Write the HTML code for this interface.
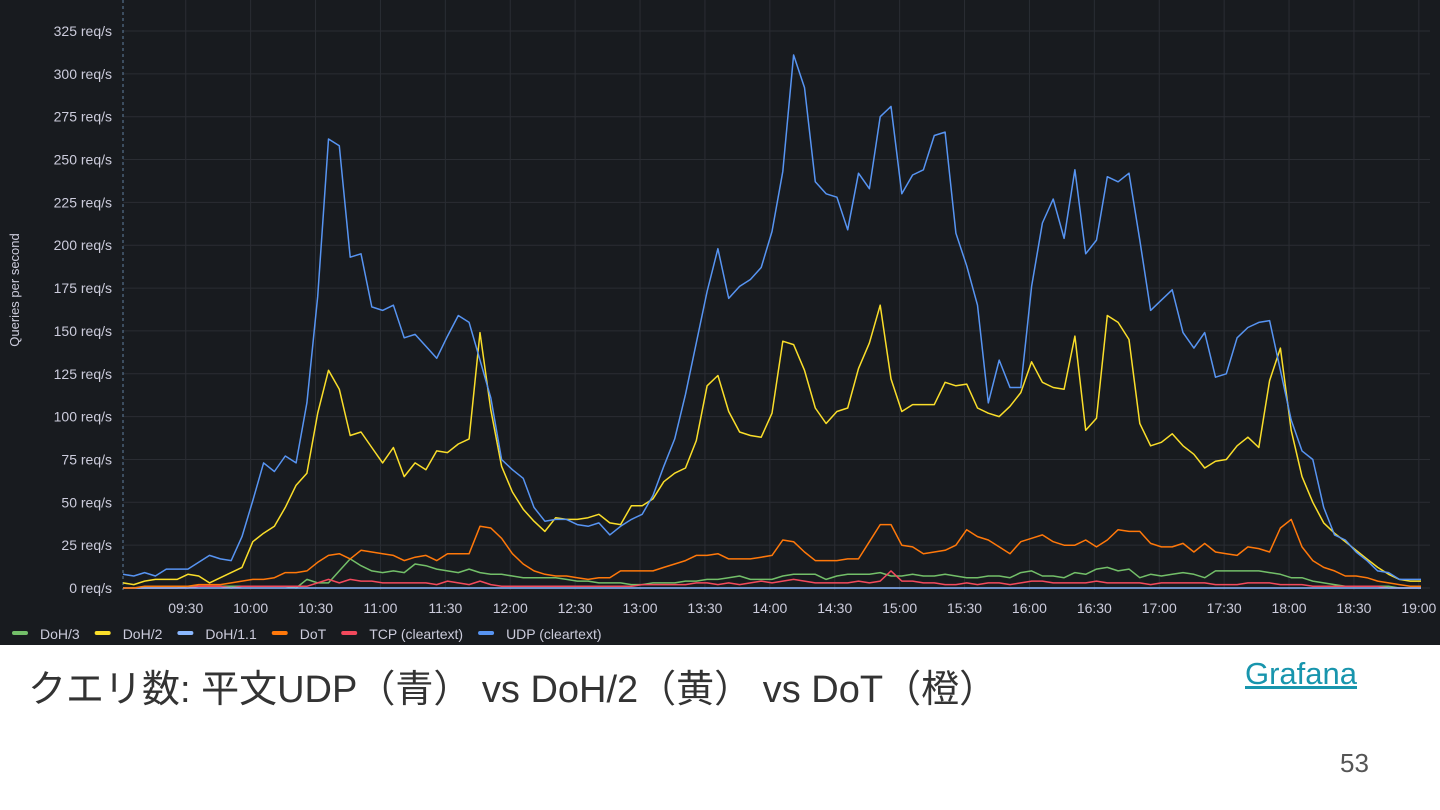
<!DOCTYPE html>
<html><head><meta charset="utf-8">
<style>
body{margin:0;width:1440px;height:810px;background:#fff;overflow:hidden;font-family:"Liberation Sans","Noto Sans CJK JP",sans-serif;}
#panel{position:absolute;left:0;top:0;width:1440px;height:645px;background:#181b1f;}
svg text{font-family:"Liberation Sans",sans-serif;}
#caption{position:absolute;left:28px;top:658px;font-size:38px;color:#333;font-family:"Liberation Sans","Noto Sans CJK JP",sans-serif;white-space:nowrap;}
#link{position:absolute;left:1245px;top:656px;font-size:31px;color:#1895ad;text-decoration:underline;font-family:"Liberation Sans",sans-serif;}
#page{position:absolute;left:1340px;top:748px;font-size:26px;color:#555;font-family:"Liberation Sans",sans-serif;}
</style></head><body>
<div id="panel">
<svg id="chart" width="1440" height="645"></svg>
</div>
<div id="caption">クエリ数: 平文UDP（青） vs DoH/2（黄） vs DoT（橙）</div>
<a id="link">Grafana</a>
<div id="page">53</div>
<script>
const yTicks=[0,25,50,75,100,125,150,175,200,225,250,275,300,325];
const xTickLabels=["09:30","10:00","10:30","11:00","11:30","12:00","12:30","13:00","13:30","14:00","14:30","15:00","15:30","16:00","16:30","17:00","17:30","18:00","18:30","19:00"];
const xTickMinutes=[570,600,630,660,690,720,750,780,810,840,870,900,930,960,990,1020,1050,1080,1110,1140];
const startMinute=541;
const stepMinutes=5;
const udp=[8,7,9,7,11,11,11,15,19,17,16,30,51,73,68,77,73,108,170,262,258,193,195,164,162,165,146,148,141,134,147,159,155,133,111,75,69,64,47,39,40,40,37,36,38,31,36,40,43,54,71,87,113,143,173,198,169,176,180,187,208,243,311,292,237,230,228,209,242,233,275,281,230,241,244,264,266,207,188,165,108,133,117,117,176,213,227,204,244,195,203,240,237,242,203,162,168,174,149,140,149,123,125,146,152,155,156,127,98,80,75,47,31,28,21,16,10,9,5,5,5];
const doh2=[3,2,4,5,5,5,8,7,3,6,9,12,27,32,36,47,60,67,102,127,116,89,91,82,73,82,65,73,69,80,79,84,87,149,104,71,56,46,39,33,41,40,40,41,43,38,37,48,48,52,62,67,70,86,118,124,103,91,89,88,102,144,142,127,105,96,103,105,128,143,165,122,103,107,107,107,120,118,119,105,102,100,106,114,132,120,117,116,147,92,99,159,155,145,96,83,85,90,83,78,70,74,75,83,88,82,121,140,92,65,50,38,32,27,22,17,12,8,5,4,4];
const dot=[0,0,1,1,1,1,1,2,2,2,3,4,5,5,6,9,9,10,15,19,20,17,22,21,20,19,16,18,19,16,20,20,20,36,35,29,20,14,10,8,7,7,6,5,6,6,10,10,10,10,12,14,16,19,19,20,17,17,17,18,19,28,27,21,16,16,16,17,17,27,37,37,25,24,20,21,22,25,34,30,28,24,20,27,29,31,27,25,25,28,24,28,34,33,33,26,24,24,26,21,26,21,20,19,24,23,21,35,40,24,16,12,10,7,7,6,4,3,2,1,1];
const doh3=[0,0,0,0,0,0,1,1,1,1,1,1,1,1,1,1,0,5,3,3,10,17,13,10,9,10,9,14,13,11,10,9,11,9,8,8,7,6,6,6,6,5,4,4,3,3,3,2,2,3,3,3,4,4,5,5,6,7,5,5,5,7,8,8,8,5,7,8,8,8,9,7,7,8,7,7,8,7,6,6,7,7,6,9,10,7,7,6,9,8,11,12,10,11,6,8,7,8,9,8,6,10,10,10,10,10,9,8,6,6,4,3,2,1,1,1,1,1,0,0,0];
const tcp=[0,0,0,0,0,0,0,1,1,1,0,1,1,1,1,1,1,1,3,5,3,5,4,4,3,3,3,3,3,2,4,3,2,4,2,1,1,1,1,1,1,1,1,1,1,1,1,1,2,2,2,2,2,3,3,2,3,2,3,4,3,4,5,4,3,3,3,3,4,3,4,10,4,4,3,3,2,2,3,2,3,3,2,3,4,4,3,3,3,3,4,3,3,3,3,2,3,3,3,3,3,2,2,2,3,3,3,2,2,2,1,1,1,1,1,1,1,0,0,0,0];
const doh11=new Array(121).fill(0);
const series=[
 {name:"doh3",vals:doh3,color:"#73bf69"},
 {name:"tcp",vals:tcp,color:"#f2495c"},
 {name:"doh11",vals:doh11,color:"#8ab8ff"},
 {name:"dot",vals:dot,color:"#ff780a"},
 {name:"doh2",vals:doh2,color:"#fade2a"},
 {name:"udp",vals:udp,color:"#5794f2"}
];
const legendNames=["DoH/3","DoH/2","DoH/1.1","DoT","TCP (cleartext)","UDP (cleartext)"];
const legendColors=["#73bf69","#fade2a","#8ab8ff","#ff780a","#f2495c","#5794f2"];
const NS="http://www.w3.org/2000/svg";
const svg=document.getElementById('chart');
const y0=588, pxPer=(588-31)/325;
const xMinPx=123, pxPerMin=64.9/30;
function yScale(v){return y0-v*pxPer;}
function xScale(m){return xMinPx+(m-startMinute)*pxPerMin;}
function mk(tag,attrs){const e=document.createElementNS(NS,tag);for(const k in attrs)e.setAttribute(k,attrs[k]);svg.appendChild(e);return e;}
yTicks.forEach(v=>{
 const l=mk('line',{x1:123,x2:1430,y1:yScale(v),y2:yScale(v),stroke:'#2a2d33','stroke-width':1});
 
 
 const t=mk('text',{x:112,y:yScale(v)+5,'text-anchor':'end','font-size':14,fill:'#ccccdc'});
 t.textContent=v+" req/s";
 
 
});
xTickMinutes.forEach((m,i)=>{
 const x=xScale(m);
 const l=mk('line',{x1:x,x2:x,y1:0,y2:590,stroke:'#2a2d33','stroke-width':1});
 
 
 const t=mk('text',{x:x,y:613,'text-anchor':'middle','font-size':14,fill:'#ccccdc'});
 t.textContent=xTickLabels[i];
 
 
});
const dl=mk('line',{x1:123,x2:123,y1:0,y2:590,stroke:'#5f7f9f','stroke-width':1,'stroke-dasharray':'3,3'});


const yt=mk('text',{x:0,y:0,transform:'translate(19,290) rotate(-90)','text-anchor':'middle','font-size':13,fill:'#ccccdc'});
yt.textContent="Queries per second";


series.forEach(s=>{
 const pts=s.vals.map((v,i)=>xScale(startMinute+i*stepMinutes).toFixed(1)+","+yScale(v).toFixed(1)).join(" ");
 const p=mk('polyline',{points:pts,fill:'none',stroke:s.color,'stroke-width':1.5,'stroke-linejoin':'round'});
 
 
});
let lx=12;
legendNames.forEach((n,i)=>{
 const r=mk('rect',{x:lx,y:631,width:16,height:4,rx:2,fill:legendColors[i]});
 
 
 const t=mk('text',{x:lx+28,y:639,'font-size':14,fill:'#ccccdc'});
 t.textContent=n;
 
 
 lx+=28+t.getComputedTextLength()+15;
});
</script>
</body></html>
